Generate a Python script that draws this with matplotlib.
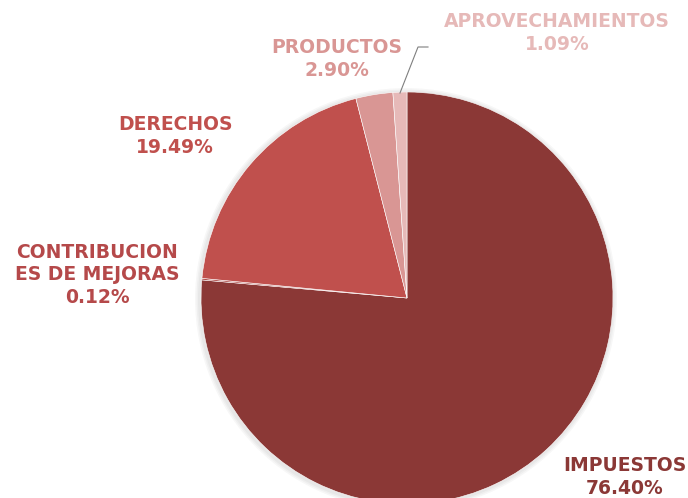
import matplotlib.pyplot as plt

# data
categories = ["IMPUESTOS", "CONTRIBUCION\nES DE MEJORAS", "DERECHOS", "PRODUCTOS", "APROVECHAMIENTOS"]
shares = [76.40, 0.12, 19.49, 2.90, 1.09]

slice_colors = ["#8B3836", "#A8423F", "#C0504D", "#D99694", "#E6B9B8"]
label_colors = ["#8B3836", "#B5494A", "#C0504D", "#D99694", "#E6B9B8"]

# label anchor points in pixels (image coords, y down)
label_pos = [(625, 477), (97, 275), (175, 136), (337, 59), (557, 33)]

W, H = 688, 498
fig = plt.figure(figsize=(W / 100, H / 100), dpi=100)
ax = fig.add_axes([0, 0, 1, 1])

cx, cy, r = 407, H - 298, 206

# soft shadow
for i, a in enumerate([0.03, 0.03, 0.03]):
    ax.add_patch(plt.Circle((cx - 1, cy - 1), r + 2 + i * 1.5, color='black', alpha=a, lw=0))

ax.pie(shares, colors=slice_colors, startangle=90, counterclock=False,
       center=(cx, cy), radius=r, frame=True,
       wedgeprops=dict(edgecolor='white', linewidth=0.4))
ax.set_xlim(0, W)
ax.set_ylim(0, H)
ax.axis('off')

for name, val, col, (x, y) in zip(categories, shares, label_colors, label_pos):
    ax.text(x, H - y, f"{name}\n{val:.2f}%", color=col, ha='center', va='center',
            fontsize=13.5, fontweight='bold', family='DejaVu Sans', linespacing=1.25)

# leader line for APROVECHAMIENTOS
ax.plot([400, 418, 428], [H - 93, H - 47, H - 47], color='#7F7F7F', lw=0.8)

fig.savefig('out.png', dpi=100)
